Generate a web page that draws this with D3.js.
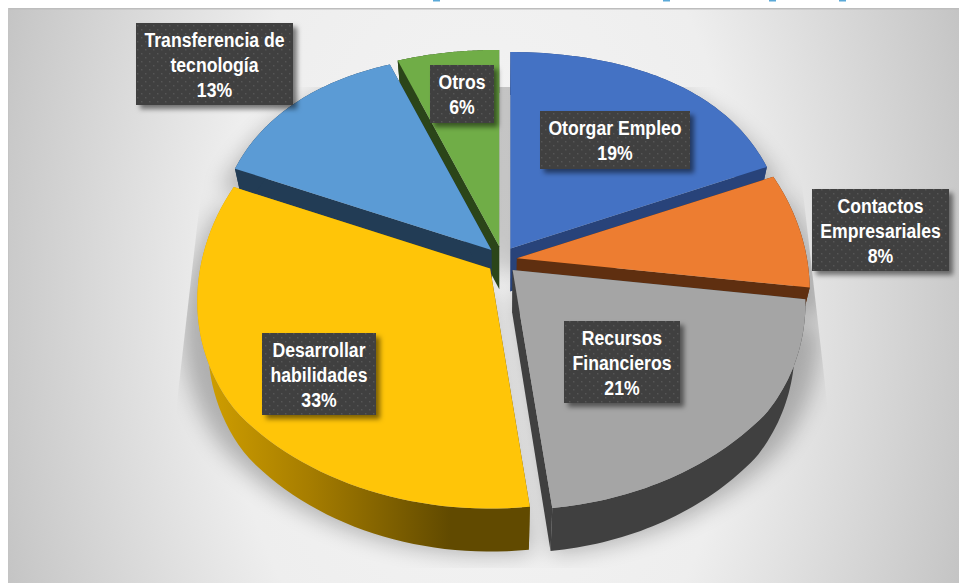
<!DOCTYPE html>
<meta charset="utf-8">
<script src="https://d3js.org/d3.v7.min.js"></script>
<style>
  html, body { margin: 0; padding: 0; background: white; overflow: hidden; }
  text { font-family: "Liberation Sans", sans-serif; font-weight: bold; fill: white; }
</style>
<svg id="chart" width="959" height="583"></svg>
<script>
  // chart data
  var categories = ["Otorgar Empleo", "Contactos Empresariales", "Recursos Financieros", "Desarrollar habilidades", "Transferencia de tecnología", "Otros"];
  var labelLines = [["Otorgar Empleo"], ["Contactos", "Empresariales"], ["Recursos", "Financieros"], ["Desarrollar", "habilidades"], ["Transferencia de", "tecnología"], ["Otros"]];
  var values = [19, 8, 21, 33, 13, 6];

  // colours of the top faces and of the side walls
  var topColors = ["#4472c4", "#ed7d31", "#a5a5a5", "#ffc508", "#5b9bd5", "#70ad47"];
  var wallColors = ["#28437a", "#5f2f10", "#404040", "url(#yellowWall)", "#223c55", "#2b4519"];

  // label boxes, left/top/right/bottom
  var labelBoxes = [[540, 111, 690, 169], [812, 189, 949, 271], [564, 321, 680, 403], [262, 333, 376, 415], [136, 23, 293, 105], [430, 65, 494, 123]];

  var cx = 502, cy = 260;
  var rx = 290, ry = 216, perspX = 0.14, perspY = 0.1, bulge = 15;
  var explodeX = 15, explodeY = 14, depth = 43, bottomScale = 0.965;
  var line = d3.line();

  var svg = d3.select("#chart");
  var defs = svg.append("defs");

  // background
  var bg = defs.append("radialGradient").attr("id", "bg")
    .attr("gradientUnits", "userSpaceOnUse")
    .attr("cx", 0).attr("cy", 0).attr("r", 1.1)
    .attr("gradientTransform", "translate(483,295) scale(480,800)");
  [[0, "#f5f5f5"], [0.5, "#eeeeee"], [0.91, "#c9c9c9"], [1, "#c0c0c0"]].forEach(function(s) {
    bg.append("stop").attr("offset", s[0]).attr("stop-color", s[1]);
  });

  var yw = defs.append("linearGradient").attr("id", "yellowWall")
    .attr("gradientUnits", "userSpaceOnUse")
    .attr("x1", 195).attr("x2", 450).attr("y1", 0).attr("y2", 0);
  [[0, "#d4a200"], [0.45, "#a67d00"], [1, "#614a00"]].forEach(function(s) {
    yw.append("stop").attr("offset", s[0]).attr("stop-color", s[1]);
  });

  defs.append("filter").attr("id", "pieBlur")
    .attr("x", "-20%").attr("y", "-20%").attr("width", "140%").attr("height", "140%")
    .append("feGaussianBlur").attr("stdDeviation", 11);

  var ds = defs.append("filter").attr("id", "boxShadow")
    .attr("x", "-20%").attr("y", "-20%").attr("width", "140%").attr("height", "150%");
  ds.append("feDropShadow").attr("dx", 4).attr("dy", 4).attr("stdDeviation", 2.5)
    .attr("flood-color", "#000").attr("flood-opacity", 0.5);

  var pat = defs.append("pattern").attr("id", "dots").attr("patternUnits", "userSpaceOnUse")
    .attr("width", 8).attr("height", 8);
  pat.append("rect").attr("width", 8).attr("height", 8).attr("fill", "#404040");
  pat.append("rect").attr("x", 1).attr("y", 1).attr("width", 1.4).attr("height", 1.4).attr("fill", "#565656");
  pat.append("rect").attr("x", 5).attr("y", 5).attr("width", 1.4).attr("height", 1.4).attr("fill", "#565656");

  defs.append("clipPath").attr("id", "shadowClip")
    .append("path").attr("d", "M213,87L791,87L846,568L158,568Z");

  svg.append("rect").attr("x", 8).attr("y", 8).attr("width", 951).attr("height", 575).attr("fill", "url(#bg)");
  svg.append("rect").attr("x", 8).attr("y", 8).attr("width", 951).attr("height", 1.5).attr("fill", "#bdbdbd");
  svg.append("rect").attr("x", 8).attr("y", 8).attr("width", 1).attr("height", 575).attr("fill", "#c4c4c4");

  // cropped bits of the title above the chart
  [433, 663, 769, 839].forEach(function(x) {
    svg.append("rect").attr("x", x).attr("y", 0).attr("width", 7).attr("height", 1.5).attr("fill", "#5ba9d8");
  });

  // pie slices with the perspective of the tilted pie
  var slices = d3.pie().sort(null).startAngle(0).endAngle(2 * Math.PI)(values).map(function(d, i) {
    var mid = (d.startAngle + d.endAngle) / 2;
    var apex = [cx + explodeX * Math.sin(mid), cy - explodeY * Math.cos(mid)];
    var project = function(a) {
      var u = Math.sin(a), v = Math.cos(a);
      var vx = Math.max(-0.6, Math.min(0.37, v));
      return [apex[0] + rx * u / (1 + perspX * vx),
              apex[1] - (ry / (1 + perspY * v) + bulge * (1 - v * v)) * v];
    };
    var arc = d3.range(0, 61).map(function(k) {
      return project(d.startAngle + (d.endAngle - d.startAngle) * k / 60);
    });
    return {index: i, apex: apex, arc: arc};
  });

  // the bottom face sits lower and a bit narrower, it is further from the camera
  var down = function(p) { return [cx + (p[0] - cx) * bottomScale, p[1] + depth]; };

  // soft shadow under the pie
  var shadow = svg.append("g").attr("clip-path", "url(#shadowClip)")
    .append("g").attr("filter", "url(#pieBlur)").attr("opacity", 0.26);
  slices.forEach(function(s) {
    var pts = [s.apex].concat(s.arc).map(function(p) {
      return [cx + (p[0] - cx) * 1.04, p[1] + 26 + (p[1] - cy) * 0.07];
    });
    shadow.append("path").attr("d", line(pts) + "Z").attr("fill", "#000")
      .attr("stroke", "#000").attr("stroke-width", 4);
  });

  // back to front: green, light blue, blue, orange, grey, yellow
  var order = [5, 4, 0, 1, 2, 3];
  var pie = svg.append("g");
  order.forEach(function(i) {
    var s = slices[i];
    var wall = pie.append("g").attr("fill", wallColors[i]);
    var first = s.arc[0], last = s.arc[s.arc.length - 1];
    wall.append("path").attr("d", line([s.apex, first, down(first), down(s.apex)]) + "Z");
    wall.append("path").attr("d", line([s.apex, last, down(last), down(s.apex)]) + "Z");
    wall.append("path").attr("d", line(s.arc.concat(s.arc.slice().reverse().map(down))) + "Z");
    pie.append("path").attr("d", line([s.apex].concat(s.arc)) + "Z").attr("fill", topColors[i]);
  });

  // data labels
  var labels = svg.append("g");
  categories.forEach(function(c, i) {
    var b = labelBoxes[i];
    labels.append("rect").attr("x", b[0]).attr("y", b[1])
      .attr("width", b[2] - b[0]).attr("height", b[3] - b[1])
      .attr("fill", "url(#dots)").attr("filter", "url(#boxShadow)");
    var rows = labelLines[i].concat([values[i] + "%"]);
    var mx = (b[0] + b[2]) / 2;
    rows.forEach(function(t, k) {
      labels.append("text")
        .attr("transform", "translate(" + mx + "," + (b[1] + 24 + k * 25) + ") scale(0.84,1)")
        .attr("text-anchor", "middle").attr("font-size", 21).text(t);
    });
  });
</script>
</html>
